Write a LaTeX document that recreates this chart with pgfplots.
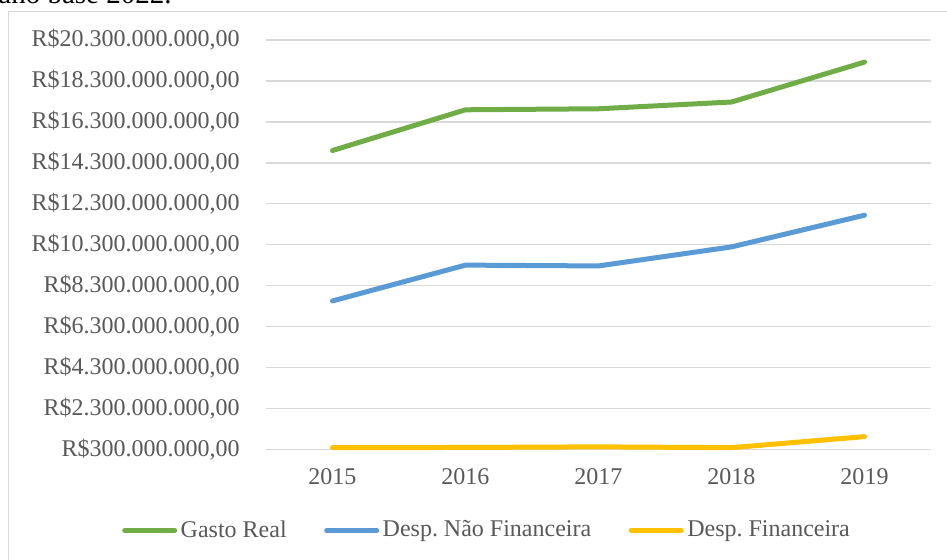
\documentclass[border=0pt]{standalone}
\usepackage{fontspec}
\setmainfont{Liberation Serif}
\usepackage{pgfplots}
\pgfplotsset{compat=1.18}
\frenchspacing
\definecolor{cgreen}{HTML}{70AD47}
\definecolor{cblue}{HTML}{5B9BD5}
\definecolor{cyellow}{HTML}{FFC000}
\definecolor{gridgray}{HTML}{D9D9D9}
\definecolor{textgray}{HTML}{595959}
\begin{document}
\frenchspacing
\begin{tikzpicture}
\useasboundingbox (-133pt,-54.85pt) rectangle (340.5pt,224.65pt);
\clip (-133pt,-54.85pt) rectangle (340.5pt,224.65pt);
\fill[white] (-133pt,-54.85pt) rectangle (340.5pt,224.65pt);
\draw[gridgray, line width=0.75pt] (-128.75pt,-70pt) -- (-128.75pt,218.8pt) -- (360pt,218.8pt);
\node[anchor=base east, font=\fontsize{14.5}{16}\selectfont, inner sep=0pt] at (-47pt,223pt) {ano base 2022.};
\begin{axis}[
  at={(0pt,0pt)}, anchor=south west,
  scale only axis,
  width=332.5pt, height=204.65pt,
  xmin=-0.5, xmax=4.5,
  ymin=300000000, ymax=20300000000,
  scaled y ticks=false,
  axis line style={draw=none},
  ymajorgrids,
  grid style={draw=gridgray, line width=0.75pt},
  major tick length=0pt,
  xtick={0,1,2,3,4},
  xticklabels={2015,2016,2017,2018,2019},
  ytick={300000000,2300000000,4300000000,6300000000,8300000000,10300000000,12300000000,14300000000,16300000000,18300000000,20300000000},
  yticklabels={R\$300.000.000{,}00,R\$2.300.000.000{,}00,R\$4.300.000.000{,}00,R\$6.300.000.000{,}00,R\$8.300.000.000{,}00,R\$10.300.000.000{,}00,R\$12.300.000.000{,}00,R\$14.300.000.000{,}00,R\$16.300.000.000{,}00,R\$18.300.000.000{,}00,R\$20.300.000.000{,}00},
  yticklabel style={inner sep=0pt, anchor=east, xshift=-13pt, text=textgray, font=\fontsize{12}{14}\selectfont},
  xticklabel style={inner sep=0pt, anchor=north, yshift=-9.3pt, text=textgray, font=\fontsize{12}{14}\selectfont},
  /pgf/number format/assume math mode=true,
  clip=false,
  legend columns=3,
  legend cell align=left,
  legend image code/.code={\draw[#1, line cap=round] (0pt,0pt) -- (25pt,0pt);},
  legend style={draw=none, fill=none, inner sep=0pt, outer sep=0pt,
    at={(-0.2162,-0.1979)}, anchor=west,
    nodes={inner sep=0pt, text=textgray, font=\fontsize{12}{14}\selectfont},
    /tikz/every odd column/.append style={column sep=1.75pt},
    /tikz/every even column/.append style={column sep=18.75pt}},
]
\addplot[cgreen, line width=2.5pt, line cap=round, line join=round] coordinates {
 (0,14900000000) (1,16890000000) (2,16940000000) (3,17270000000) (4,19220000000)};
\addlegendentry{Gasto Real}
\addplot[cblue, line width=2.5pt, line cap=round, line join=round] coordinates {
 (0,7550000000) (1,9300000000) (2,9260000000) (3,10190000000) (4,11740000000)};
\addlegendentry{Desp. Não Financeira}
\addplot[cyellow, line width=2.5pt, line cap=round, line join=round] coordinates {
 (0,380000000) (1,390000000) (2,420000000) (3,380000000) (4,920000000)};
\addlegendentry{Desp. Financeira}
\end{axis}
\end{tikzpicture}
\end{document}
